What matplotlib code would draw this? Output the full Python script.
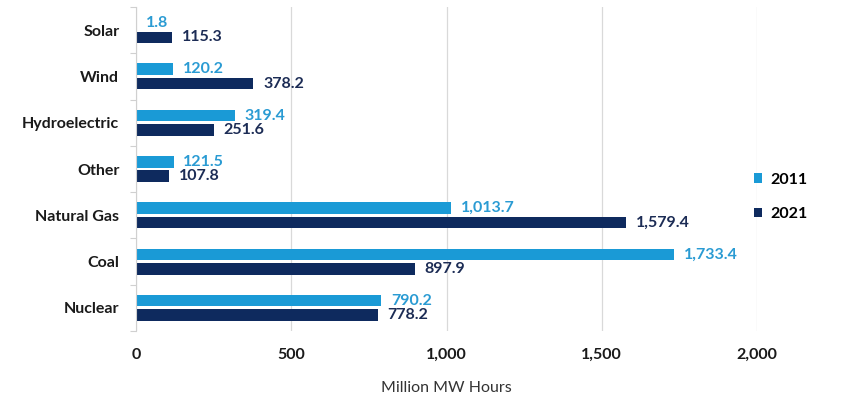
import matplotlib.pyplot as plt
import numpy as np
from matplotlib.ticker import FuncFormatter, FixedLocator

# Electricity generation by source, million MW hours
sources = ['Solar', 'Wind', 'Hydroelectric', 'Other', 'Natural Gas', 'Coal', 'Nuclear']
gen_2011 = [1.8, 120.2, 319.4, 121.5, 1013.7, 1733.4, 790.2]
gen_2021 = [115.3, 378.2, 251.6, 107.8, 1579.4, 897.9, 778.2]
years = ['2011', '2021']

light = '#1a9ad6'
dark = '#0e2a5e'
light_txt = '#2a9bd3'
dark_txt = '#1c2c55'

plt.rcParams['font.family'] = ['Lato', 'DejaVu Sans']

fig = plt.figure(figsize=(8.41, 4.01), dpi=100)
ax = fig.add_axes([136 / 841, 1 - 331 / 401, (757 - 136) / 841, (331 - 7) / 401])

y = np.arange(len(sources))
h = 0.25
b1 = ax.barh(y - h / 2 - 0.03, gen_2011, height=h, color=light, label=years[0])
b2 = ax.barh(y + h / 2 + 0.03, gen_2021, height=h, color=dark, label=years[1])

# value labels next to each bar end
for bars, vals, col in [(b1, gen_2011, light_txt), (b2, gen_2021, dark_txt)]:
    for bar, v in zip(bars, vals):
        ax.annotate(f'{v:,.1f}', (bar.get_width(), bar.get_y() + bar.get_height() / 2),
                    xytext=(7, 0), textcoords='offset points', va='center', ha='left',
                    fontsize=11.5, fontweight='bold', color=col)

ax.set_xlim(0, 2000)
ax.set_ylim(len(sources) - 0.5, -0.5)
ax.set_xticks([0, 500, 1000, 1500, 2000])
ax.xaxis.set_major_formatter(FuncFormatter(lambda v, p: f'{v:,.0f}'))
ax.set_yticks(y)
ax.set_yticklabels(sources)
ax.yaxis.set_minor_locator(FixedLocator(np.arange(-0.5, len(sources), 1)))

ax.tick_params(axis='x', length=0, pad=12, labelsize=11.5, labelcolor='#1a1a1a')
for t in ax.get_xticklabels():
    t.set_fontweight('bold')
ax.tick_params(axis='y', which='major', length=0, pad=12, labelsize=11.5, labelcolor='#1a1a1a')
ax.tick_params(axis='y', which='minor', length=4, color='#d0d0d0', width=0.8)
for t in ax.get_yticklabels():
    t.set_fontweight('bold')

ax.grid(axis='x', color='#d9d9d9', linewidth=0.9)
ax.set_axisbelow(True)
for s in ['top', 'right', 'bottom']:
    ax.spines[s].set_visible(False)
ax.spines['left'].set_color('#d0d0d0')
ax.spines['left'].set_linewidth(0.8)

ax.set_xlabel('Million MW Hours', fontsize=11.5, color='#333333', labelpad=14)

fig.legend(handles=[b1, b2], labels=years, loc='center left', bbox_to_anchor=(740 / 841, 1 - 197 / 401),
           frameon=False, handlelength=0.5, handleheight=0.5, handletextpad=0.5,
           labelspacing=1.3, prop={'weight': 'bold', 'size': 11.5})

fig.savefig('out.png', dpi=100)
